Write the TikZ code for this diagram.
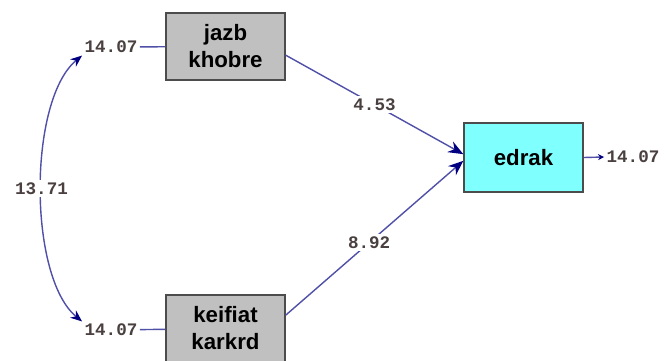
\documentclass[tikz,border=0pt]{standalone}
\usepackage{fontspec}
\setmainfont{Liberation Sans}
\newfontfamily\numfont{Liberation Mono}
\usetikzlibrary{arrows.meta}
\definecolor{pathblue}{HTML}{5050A8}
\definecolor{tipblue}{HTML}{000080}
\definecolor{boxgray}{HTML}{C0C0C0}
\definecolor{boxcyan}{HTML}{80FFFF}
\definecolor{numbrown}{HTML}{4A4040}
\begin{document}
\begin{tikzpicture}[x=0.03cm, y=-0.03cm,
    >={Stealth[length=4.5mm,width=3.6mm,color=tipblue]},
    var/.style={draw=black!70, line width=1.2pt, minimum width=3.57cm,
      minimum height=2.01cm, align=center, inner sep=0pt,
      font=\fontsize{19}{23}\selectfont\bfseries},
    coef/.style={font=\numfont\fontsize{15}{17}\selectfont\bfseries,
      text=numbrown, fill=white, inner sep=2pt},
    link/.style={draw=pathblue, line width=1.2pt}]
    \useasboundingbox (0,0) rectangle (668,360);

    \node[var, fill=boxgray] (jazb) at (225.5, 46.5) {jazb\\khobre};
    \node[var, fill=boxgray] (keifiat) at (225.5, 328.5) {keifiat\\karkrd};
    \node[var, fill=boxcyan, minimum height=2.07cm] (edrak) at (523.5, 157.5) {edrak};

    \node[coef] (jazbvar) at (111, 47) {14.07};
    \node[coef] (keifiatvar) at (111, 330) {14.07};
    \node[coef] (edrakerr) at (633, 157) {14.07};

    \draw[link] (jazbvar) -- (jazb);
    \draw[link] (keifiatvar) -- (keifiat);
    \draw[link, <->, >={Stealth[length=3.5mm,width=2.8mm,color=tipblue]}]
      (jazbvar.south west) .. controls (28, 100) and (28, 277) ..
      node[coef] {13.71} (keifiatvar.north west);

    \draw[link, ->] ([yshift=-0.26cm]jazb.east) -- node[coef] {4.53} ([yshift=0.1cm]edrak.west);
    \draw[link, ->] ([yshift=0.4cm]keifiat.east) -- node[coef, pos=0.47] {8.92} ([yshift=-0.1cm]edrak.west);
    \draw[link, -{Stealth[length=1.8mm,width=1.8mm,color=tipblue]}] (edrak.east) -- (edrakerr.west);
  \end{tikzpicture}
\end{document}
